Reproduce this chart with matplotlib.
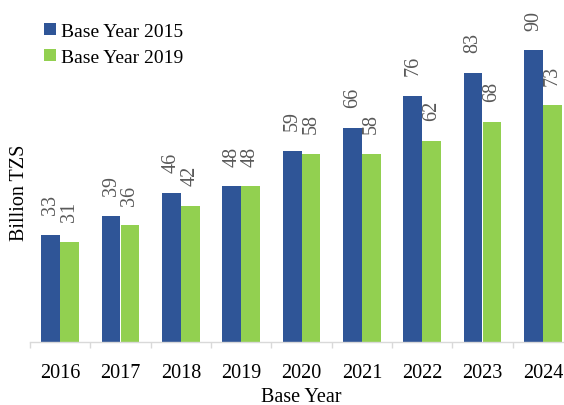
"""Bar chart: values by base year, Base Year 2015 vs Base Year 2019."""
import matplotlib
matplotlib.use("Agg")
import matplotlib.pyplot as plt
import numpy as np

years = ["2016", "2017", "2018", "2019", "2020", "2021", "2022", "2023", "2024"]
base_2015 = [33, 39, 46, 48, 59, 66, 76, 83, 90]
base_2019 = [31, 36, 42, 48, 58, 58, 62, 68, 73]
series_names = ["Base Year 2015", "Base Year 2019"]

BLUE = "#2F5597"
GREEN = "#92D050"
GRID = "#D9D9D9"
LABEL_GREY = "#595959"

plt.rcParams["font.family"] = ["Liberation Serif", "DejaVu Serif"]

W, H = 564, 406
fig = plt.figure(figsize=(W / 100, H / 100), dpi=100)
# axes spans x 30..573 px, y from baseline 343 px up
ax = fig.add_axes([30 / W, (H - 343) / H, 543 / W, 324 / H])

x = np.arange(len(years))
bw = 0.31
b1 = ax.bar(x - bw / 2, base_2015, bw, color=BLUE, label=series_names[0])
b2 = ax.bar(x + bw / 2, base_2019, bw, color=GREEN, label=series_names[1])

for bars, vals in ((b1, base_2015), (b2, base_2019)):
    for rect, v in zip(bars, vals):
        ax.annotate(f"{v}", (rect.get_x() + rect.get_width() / 2, v),
                    textcoords="offset points", xytext=(0, 15),
                    ha="center", va="bottom", rotation=90,
                    fontsize=14.5, color=LABEL_GREY, annotation_clip=False)

ax.set_xlim(-0.5, len(years) - 0.5)
ax.set_ylim(0, 100)
ax.set_yticks([])
for side in ("left", "right", "top"):
    ax.spines[side].set_visible(False)
ax.spines["bottom"].set_color(GRID)
ax.spines["bottom"].set_linewidth(1)

ax.set_xticks(x)
ax.set_xticklabels(years, fontsize=14.5)
ax.tick_params(axis="x", which="major", length=0, pad=15)
ax.set_xticks(np.arange(-0.5, len(years)), minor=True)
ax.tick_params(axis="x", which="minor", length=4.5, color=GRID, width=1)

fig.text(20 / W, 1 - 193 / H, "Billion TZS", rotation=90, ha="center",
         va="center", fontsize=14.5)
fig.text(301 / W, 1 - 398 / H, "Base Year", ha="center", va="center",
         fontsize=14.5)

fig.legend(loc="upper left", bbox_to_anchor=(44 / W, 1 - 24 / H),
           frameon=False, fontsize=14, handlelength=0.6, handleheight=0.6,
           handletextpad=0.25, labelspacing=0.45, borderaxespad=0,
           borderpad=0)

fig.savefig("out.png", dpi=100)
